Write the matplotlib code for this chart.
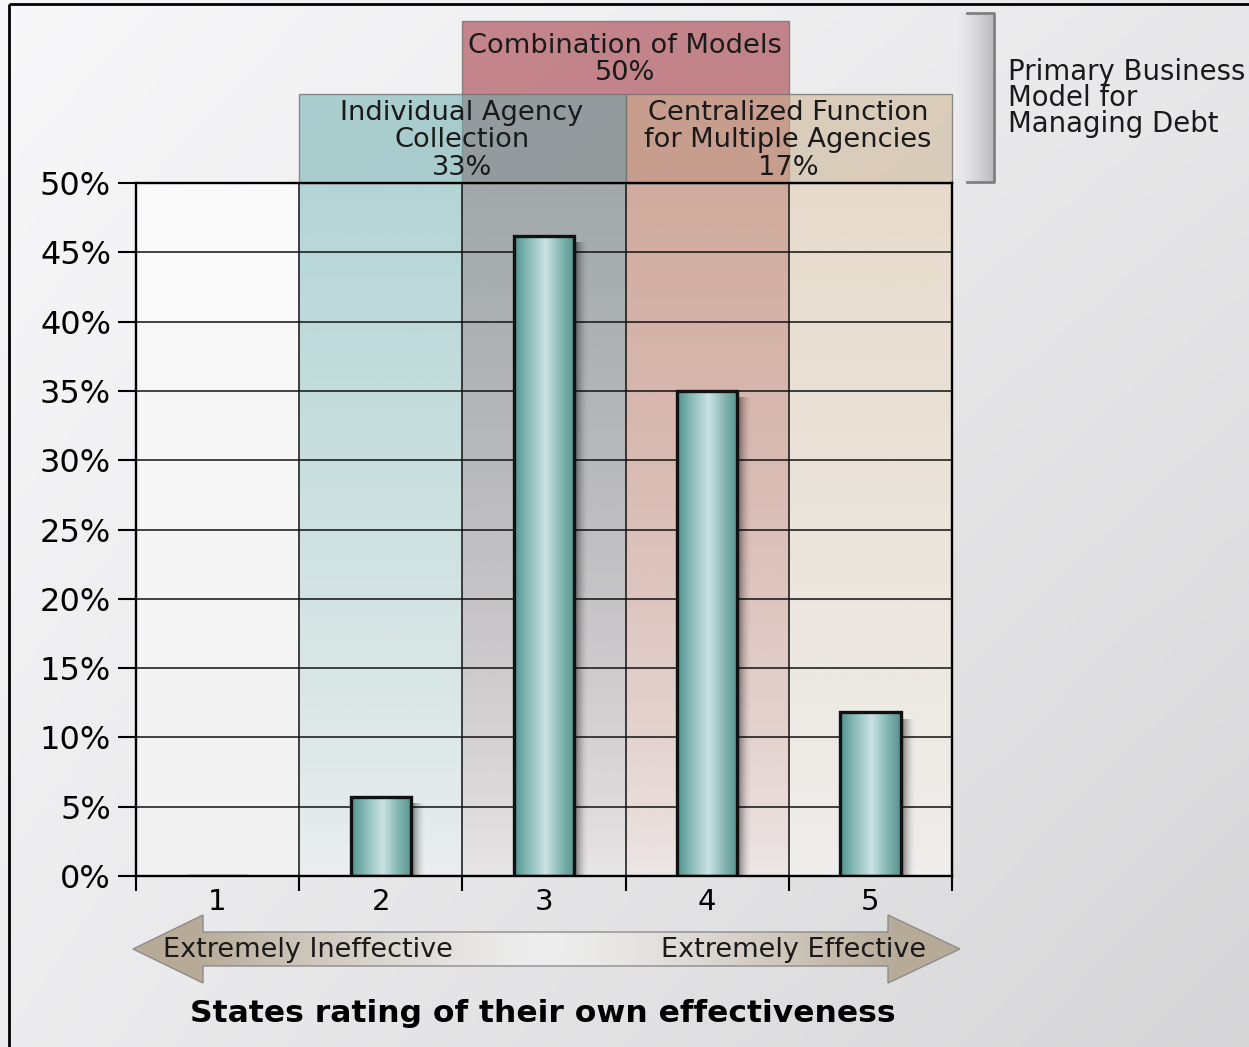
import numpy as np
import matplotlib
matplotlib.use("Agg")
import matplotlib.pyplot as plt
from matplotlib.patches import Rectangle, Polygon

# ---- data -------------------------------------------------------------
ratings = [1, 2, 3, 4, 5]
share_pct = [0.0, 5.7, 46.2, 35.0, 11.8]
ytick_vals = [0, 5, 10, 15, 20, 25, 30, 35, 40, 45, 50]
ytick_labels = [f"{v}%" for v in ytick_vals]

model_names = ["Combination of Models",
               "Individual Agency\nCollection",
               "Centralized Function\nfor Multiple Agencies"]
model_pct = [50, 33, 17]
model_span = [(3, 4), (2, 3), (4, 5)]          # rating columns each model covers
model_rgb = [(165, 60, 70), (110, 175, 175), (205, 180, 145)]

side_title = ["Primary Business", "Model for", "Managing Debt"]
scale_left = "Extremely Ineffective"
scale_right = "Extremely Effective"
x_title = "States rating of their own effectiveness"

# ---- figure geometry (pixels) ----------------------------------------
W, H = 1249, 1047
AX_L, AX_R, AX_T, AX_B = 136, 952, 183, 876
FONT = "DejaVu Sans"
plt.rcParams["font.family"] = FONT

fig = plt.figure(figsize=(W / 100, H / 100), dpi=100)

# decoration layer in pixel coordinates
bg = fig.add_axes([0, 0, 1, 1], zorder=0)
bg.set_xlim(0, W)
bg.set_ylim(H, 0)
bg.axis("off")

gx, gy = np.meshgrid(np.linspace(0, 1, 400), np.linspace(0, 1, 300))
v = (248 - 16 * gx - 12 * gy - 6 * gx * gy) / 255.0
bg.imshow(np.dstack([v, v, v + 0.006]).clip(0, 1), extent=(0, W, H, 0),
          origin="upper", aspect="auto", zorder=0, interpolation="bilinear")

# outer frame (left and top edges)
bg.plot([9, 9], [4, H], color="black", lw=2.0, zorder=5, solid_capstyle="butt")
bg.plot([9, W], [4, 4], color="black", lw=2.0, zorder=5, solid_capstyle="butt")

# side bracket behind the legend title
bx0, bx1, by0, by1 = 953, 994, 13, 182
grad = np.linspace(0, 1, 100)
shade = (236 - 50 * grad ** 1.5) / 255.0
bimg = np.dstack([shade, shade, shade + 0.01]).clip(0, 1)
bg.imshow(bimg, extent=(bx0, bx1, by1, by0), origin="upper", aspect="auto",
          zorder=1, interpolation="bilinear")
bg.plot([bx0 + 14, bx1, bx1, bx0 + 14], [by0, by0, by1, by1],
        color="#808080", lw=2.0, zorder=2)

# double-headed scale arrow
ay, tipL, baseL, tipR, baseR = 949, 133, 203, 960, 888
shaft_h, head_h = 17, 34
arrow_pts = [(tipL, ay), (baseL, ay - head_h), (baseL, ay - shaft_h),
             (baseR, ay - shaft_h), (baseR, ay - head_h), (tipR, ay),
             (baseR, ay + head_h), (baseR, ay + shaft_h), (baseL, ay + shaft_h),
             (baseL, ay + head_h)]
arrow = Polygon(arrow_pts, closed=True, facecolor="none",
                edgecolor="#8c8c8c", lw=1.0, zorder=3)
bg.add_patch(arrow)
t = np.linspace(0, 1, 400)
mix = np.abs(t - 0.5) * 2
mix = np.clip((mix - 0.05) / 0.8, 0, 1) ** 1.3
tan = np.array([183, 171, 152]) / 255.0
light = np.array([236, 236, 236]) / 255.0
acol = (light[None, :] * (1 - mix[:, None]) + tan[None, :] * mix[:, None])[None, :, :]
aimg = bg.imshow(acol, extent=(tipL, tipR, ay + head_h, ay - head_h),
                 origin="upper", aspect="auto", zorder=2, interpolation="bilinear")
aimg.set_clip_path(arrow)

# ---- main chart axes ---------------------------------------------------
ax = fig.add_axes([AX_L / W, 1 - AX_B / H, (AX_R - AX_L) / W, (AX_B - AX_T) / H],
                  zorder=1)
px_per_y = (AX_B - AX_T) / 50.0


def y_of(py):
    return (AX_B - py) / px_per_y


# plot-area background: near white at the top, light grey at the bottom
pv = np.linspace(251, 241, 200)[:, None, None] / 255.0 * np.ones((1, 1, 3))
ax.imshow(pv, extent=(0.5, 5.5, 0, 50), origin="upper", aspect="auto",
          zorder=0.1, interpolation="bilinear")

# header boxes above the plot area (combination first, the others over it)
header_tops = [21, 94, 94]
header_alpha = [0.6, 0.55, 0.55]
for (c0, c1), rgb, top, a in zip(model_span, model_rgb, header_tops, header_alpha):
    col = tuple(c / 255 for c in rgb)
    ax.add_patch(Rectangle((c0 - 0.5, 50), (c1 - c0) + 1, y_of(top) - 50,
                           facecolor=col + (a,), edgecolor=(0.45, 0.45, 0.45, 0.8),
                           lw=1.0, clip_on=False, zorder=1))

# fading model bands inside the plot area
rows = np.linspace(1, 0, 300)
band_top = [0.45, 0.5, 0.45]
for (c0, c1), rgb, a0 in zip(model_span, model_rgb, band_top):
    col = np.array(rgb) / 255.0
    alpha = a0 * (0.1 + 0.9 * rows ** 0.9)
    band = np.zeros((len(rows), 1, 4))
    band[:, 0, :3] = col
    band[:, 0, 3] = alpha
    ax.imshow(band, extent=(c0 - 0.5, c1 + 0.5, 0, 50), origin="upper",
              aspect="auto", zorder=0.2, interpolation="bilinear")

# bars with a cylindrical teal fill and a soft shadow
bar_w = 0.37
bars = ax.bar(ratings, share_pct, width=bar_w, facecolor="none",
              edgecolor="#111111", lw=2.4, zorder=3)
stops = np.array([0.0, 0.2, 0.52, 0.8, 1.0])
cols = np.array([[82, 146, 141], [128, 182, 178], [202, 227, 227],
                 [126, 178, 174], [86, 147, 142]]) / 255.0
u = np.linspace(0, 1, 160)
cyl = np.stack([np.interp(u, stops, cols[:, k]) for k in range(3)], axis=1)[None, :, :]
sh_u = np.linspace(0, 1, 60)
shadow = np.zeros((1, len(sh_u), 4))
shadow[0, :, 3] = 0.55 * (1 - sh_u) ** 1.8
for b in bars:
    h = b.get_height()
    if h <= 0:
        continue
    x0 = b.get_x()
    im = ax.imshow(cyl, extent=(x0, x0 + bar_w, 0, h), origin="upper",
                   aspect="auto", zorder=2.6, interpolation="bilinear")
    im.set_clip_path(b)
    ax.imshow(shadow, extent=(x0 + bar_w, x0 + bar_w + 0.09, 0, max(h - 0.5, 0)),
              origin="upper", aspect="auto", zorder=2.4, interpolation="bilinear")

ax.set_xlim(0.5, 5.5)
ax.set_ylim(0, 50)

# ticks and grid
ax.set_yticks(ytick_vals, ytick_labels)
ax.tick_params(axis="y", length=13, width=1.5, pad=5, labelsize=23,
               direction="out", colors="black")
ax.set_xticks(np.arange(0.5, 6.0, 1.0))
ax.set_xticklabels([])
ax.set_xticks(ratings, minor=True)
ax.set_xticklabels([str(r) for r in ratings], minor=True)
ax.tick_params(axis="x", which="major", length=11, width=1.5, direction="out")
ax.tick_params(axis="x", which="minor", length=0, pad=9, labelsize=21)
ax.set_axisbelow(True)
ax.grid(True, which="major", color="#111111", lw=1.1)
for s in ax.spines.values():
    s.set_linewidth(1.7)
    s.set_color("black")
    s.set_zorder(4)


def fig_text(px, py, s, **kw):
    fig.text(px / W, 1 - py / H, s, **kw)


# header labels (baselines in pixels)
label_x = [625, 462, 788]
label_baselines = [[53, 80], [120, 147, 175], [120, 147, 175]]
for name, pct, lx, bases in zip(model_names, model_pct, label_x, label_baselines):
    lines = name.split("\n") + [f"{pct}%"]
    for line, by in zip(lines, bases):
        fig_text(lx, by, line, ha="center", va="baseline", fontsize=19.6,
                 color="#1a1a1a", zorder=6)

for line, by in zip(side_title, [80, 106, 132]):
    fig_text(1008, by, line, ha="left", va="baseline", fontsize=19.8,
             color="#1a1a1a", zorder=6)

fig_text(163, 957, scale_left, ha="left", va="baseline", fontsize=19.5,
         color="#1a1a1a", zorder=6)
fig_text(926, 957, scale_right, ha="right", va="baseline", fontsize=19.5,
         color="#1a1a1a", zorder=6)
fig_text(543, 1022, x_title, ha="center", va="baseline", fontsize=22.6,
         fontweight="bold", color="black", zorder=6)

fig.savefig("out.png", dpi=100)
